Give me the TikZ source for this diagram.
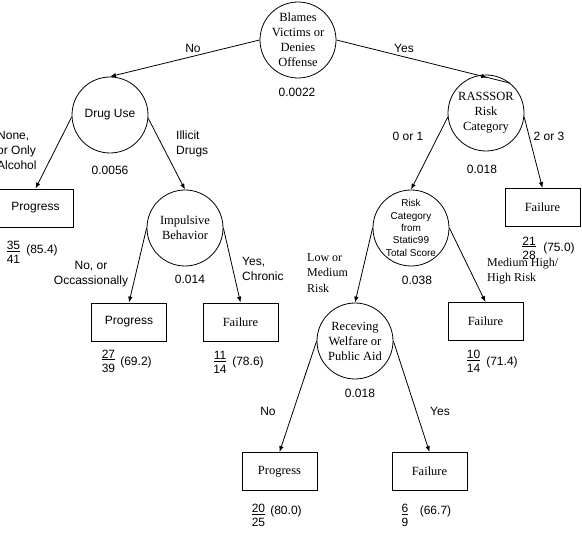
\documentclass[tikz,border=0pt]{standalone}
\usepackage{fontspec}
\setmainfont{Liberation Serif}
\setsansfont{Liberation Sans}
\usetikzlibrary{arrows.meta,decorations.markings}

\begin{document}
\begin{tikzpicture}[x=1pt,y=-1pt,
  lbl/.style={font=\sffamily\fontsize{12}{15}\selectfont, inner sep=0pt},
  slbl/.style={font=\rmfamily\fontsize{12}{15.5}\selectfont, inner sep=0pt},
  splitnode/.style={circle, draw, line width=0.8pt, minimum size=76pt, inner sep=-2pt, align=center},
  serifsplit/.style={splitnode, font=\rmfamily\fontsize{12.5}{15}\selectfont},
  sanssplit/.style={splitnode, font=\sffamily\fontsize{12}{15}\selectfont},
  leaf/.style={draw, line width=0.8pt, minimum width=75pt, minimum height=38pt, inner sep=0pt},
  serifleaf/.style={leaf, font=\rmfamily\fontsize{12.5}{15}\selectfont},
  sansleaf/.style={leaf, font=\sffamily\fontsize{12}{15}\selectfont},
  fracnode/.style={font=\sffamily\fontsize{12}{14}\selectfont, align=center, inner sep=0pt},
  tip/.tip={Latex[length=6pt,width=4.5pt]},
  branch/.style={line width=0.8pt, -tip},
]

\useasboundingbox (0,0) rectangle (582,540);

% split nodes
\node[serifsplit] (root) at (298,40) {Blames\\Victims or\\Denies\\Offense};
\node[sanssplit] (drug) at (110,115) {Drug Use};
\node[serifsplit] (imp) at (185,228) {Impulsive\\Behavior};
\node[serifsplit] (ras) at (486,113) {RASSSOR\\Risk\\Category};
\node[splitnode, font=\sffamily\fontsize{10}{12.3}\selectfont] (stat) at (411,228)
  {Risk\\Category\\from\\Static99\\Total Score};
\node[serifsplit] (aid) at (355,341) {Receving\\Welfare or\\Public Aid};

% terminal nodes
\node[sansleaf] (p1) at (35.5,208) {Progress};
\node[sansleaf] (p2) at (129,322) {Progress};
\node[serifleaf] (f2) at (240.5,322) {Failure};
\node[serifleaf] (f1) at (542.5,207.5) {Failure};
\node[serifleaf] (f3) at (485.5,321.5) {Failure};
\node[serifleaf] (p3) at (279.5,471.5) {Progress};
\node[serifleaf] (f4) at (429.5,471.5) {Failure};

% branches
\draw[branch] (root.west) -- (drug.north);
\draw[line width=0.8pt, postaction={decorate},
  decoration={markings, mark=at position 0.868 with {\arrow{tip}}}]
  (root.east) -- (ras.51);
\draw[branch] (drug.183) -- (p1.north);
\draw[branch] (drug.-5) -- (imp.north);
\draw[branch] (imp.west) -- (p2.north);
\draw[branch] (imp.east) -- (f2.north);
\draw[branch] (ras.186) -- (stat.north);
\draw[branch] (ras.-6) -- (f1.north);
\draw[branch] (stat.west) -- (aid.north);
\draw[branch] (stat.east) -- (f3.north);
\draw[branch] (aid.west) -- (p3.north);
\draw[branch] (aid.east) -- (f4.north);

% branch labels and p-values
\node[lbl] (lno) at (193,48) {No};
\node[lbl] (lyes) at (404,48) {Yes};
\node[lbl] (pa) at (297,92) {0.0022};
\node[lbl, align=left, anchor=west] (lnone) at (-3,150) {None,\\or Only\\Alcohol};
\node[lbl, align=left, anchor=west] (lillicit) at (176,143.5) {Illicit\\Drugs};
\node[lbl] (pb) at (110,170) {0.0056};
\node[lbl, align=center] (lnoocc) at (91,274) {No, or\\Occassionally};
\node[lbl] (pc) at (190,279) {0.014};
\node[lbl, align=left, anchor=west] (lchronic) at (242,268.5) {Yes,\\Chronic};
\node[lbl] (l01) at (408,136) {0 or 1};
\node[lbl] (l23) at (549,136) {2 or 3};
\node[lbl] (pd) at (482,169) {0.018};
\node[slbl, align=left, anchor=west] (llow) at (307,273) {Low or\\Medium\\Risk};
\node[lbl] (pe) at (417,280) {0.038};
\node[slbl, align=left, anchor=west] (lmed) at (487,271) {Medium High/\\High Risk};
\node[lbl] (pf) at (360,393) {0.018};
\node[lbl] (lno2) at (268,411) {No};
\node[lbl] (lyes2) at (440,411) {Yes};

% counts and percentages
\node[fracnode] (fr1) at (13.5,252.5) {\underline{35}\\41};
\node[lbl] (pc1) at (42,250) {(85.4)};
\node[fracnode] (fr2) at (108.5,361) {\underline{27}\\39};
\node[lbl] (pc2) at (136,362) {(69.2)};
\node[fracnode] (fr3) at (220,362.5) {\underline{11}\\14};
\node[lbl] (pc3) at (248,362) {(78.6)};
\node[fracnode] (fr4) at (529,248) {\underline{21}\\28};
\node[lbl] (pc4) at (559,248) {(75.0)};
\node[fracnode] (fr5) at (473.5,361.5) {\underline{10}\\14};
\node[lbl] (pc5) at (502,362) {(71.4)};
\node[fracnode] (fr6) at (258.5,515.5) {\underline{20}\\25};
\node[lbl] (pc6) at (286,511) {(80.0)};
\node[fracnode] (fr7) at (405,515.5) {\underline{6}\\9};
\node[lbl] (pc7) at (435.5,511) {(66.7)};

\end{tikzpicture}
\end{document}
